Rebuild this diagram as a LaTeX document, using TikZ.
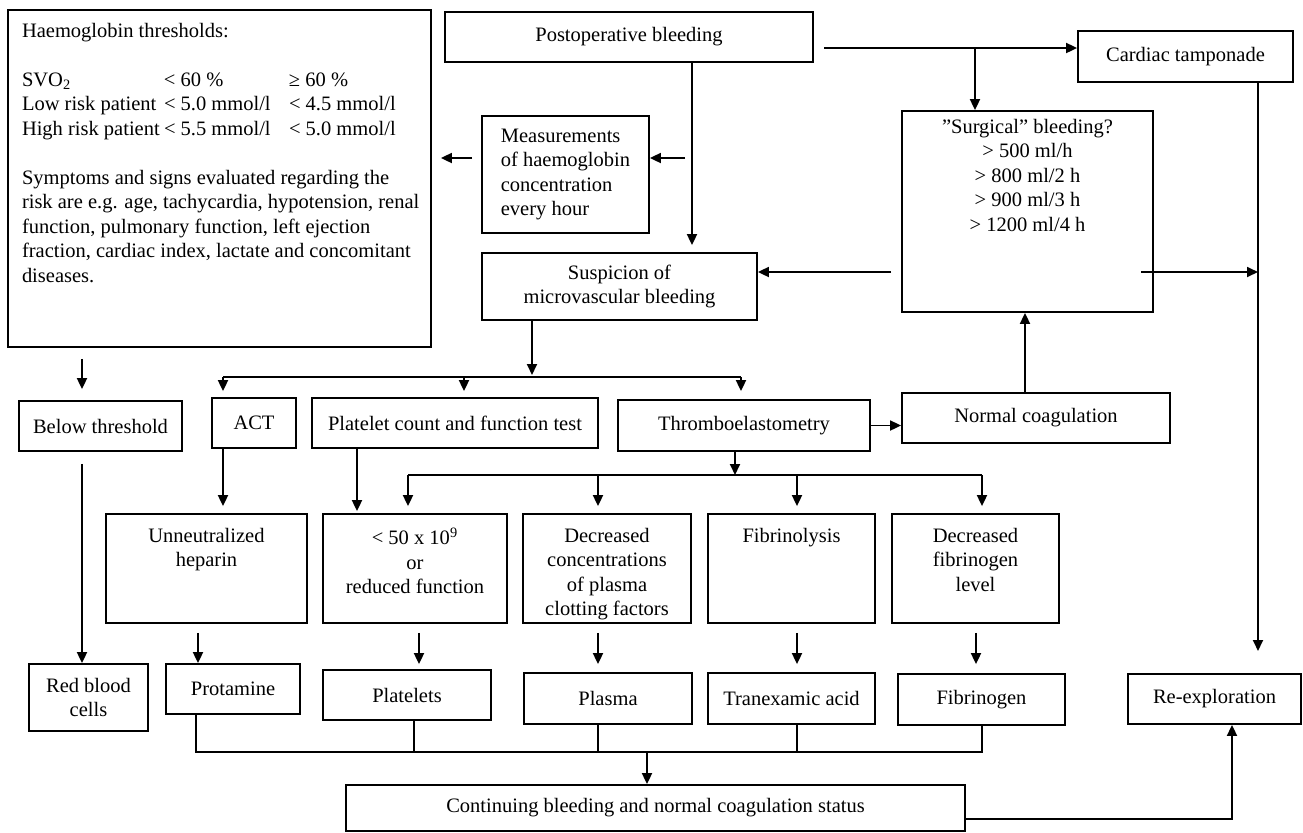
\documentclass[tikz,border=0pt]{standalone}
\usepackage{fontspec}
\setmainfont{Liberation Serif}
\usetikzlibrary{arrows.meta}

\begin{document}
\begin{tikzpicture}[x=0.5pt,y=-0.5pt,line width=0.9pt,
  every node/.style={font=\fontsize{10.25}{12.25}\selectfont},
  bx/.style 2 args={draw,inner sep=0pt,align=center,minimum width=#1*0.5pt,minimum height=#2*0.5pt},
  tx/.style={inner sep=0pt,anchor=north,align=center},
  arr/.style={-{Triangle[length=5.5pt,width=5pt]}}]
\useasboundingbox (0,0) rectangle (1303,832);
%Boxes
\node[bx={423}{337}] (hb) at (219.5,178.5) {};
\node[tx,anchor=north west,align=left] (hbT) at ([xshift=7pt,yshift=-6.5pt]hb.north west) {Haemoglobin thresholds:\\[12.25pt]
\makebox[71pt][l]{SVO\textsubscript{2}}\makebox[62.5pt][l]{< 60 \%}≥ 60 \%\\
\makebox[71pt][l]{Low risk patient}\makebox[62.5pt][l]{< 5.0 mmol/l}< 4.5 mmol/l\\
\makebox[71pt][l]{High risk patient}\makebox[62.5pt][l]{< 5.5 mmol/l}< 5.0 mmol/l\\[12.25pt]
Symptoms and signs evaluated regarding the\\
risk are e.g. age, tachycardia, hypotension, renal\\
function, pulmonary function, left ejection\\
fraction, cardiac index, lactate and concomitant\\
diseases.};
\node[bx={368}{50}] (post) at (629,37) {Postoperative bleeding};
\node[bx={215}{51}] (tamp) at (1185.5,56.5) {Cardiac tamponade};
\node[bx={251}{201}] (surg) at (1027.5,211.5) {};
\node[tx] (surgT) at ([yshift=-4pt]surg.north) {”Surgical” bleeding?\\> 500 ml/h\\> 800 ml/2 h\\> 900 ml/3 h\\> 1200 ml/4 h};
\node[bx={167}{117},align=left] (meas) at (565.5,174.5) {Measurements\\of haemoglobin\\concentration\\every hour};
\node[bx={275}{67}] (susp) at (619.5,286.5) {Suspicion of\\microvascular bleeding};
\node[bx={163}{50}] (below) at (100.5,426) {Below threshold};
\node[bx={84}{50}] (act) at (254,423) {ACT};
\node[bx={286}{50}] (plc) at (455,423) {Platelet count and function test};
\node[bx={252}{51}] (teg) at (744,425.5) {Thromboelastometry};
\node[bx={268}{50}] (norm) at (1036,418) {Normal coagulation};
\node[bx={201}{109}] (hep) at (206.5,568.5) {};
\node[bx={184}{109}] (low) at (415,568.5) {};
\node[bx={168}{109}] (dcf) at (607,568.5) {};
\node[bx={167}{109}] (fib) at (791.5,568.5) {};
\node[bx={167}{109}] (dfl) at (975.5,568.5) {};
\node[tx] at ([yshift=-7pt]hep.north) {Unneutralized\\heparin};
\node[tx] at ([yshift=-7pt]low.north) {< 50 x 10\textsuperscript{9}\\or\\reduced function};
\node[tx] at ([yshift=-7pt]dcf.north) {Decreased\\concentrations\\of plasma\\clotting factors};
\node[tx] at ([yshift=-7pt]fib.north) {Fibrinolysis};
\node[tx] at ([yshift=-7pt]dfl.north) {Decreased\\fibrinogen\\level};
\node[bx={119}{67}] (rbc) at (88.5,697.5) {Red blood\\cells};
\node[bx={134}{50}] (prot) at (233,689) {Protamine};
\node[bx={168}{50}] (plt) at (407,695) {Platelets};
\node[bx={168}{51}] (plas) at (608,698.5) {Plasma};
\node[bx={167}{51}] (txa) at (791.5,698.5) {Tranexamic acid};
\node[bx={167}{51}] (fbg) at (981.5,699.5) {Fibrinogen};
\node[bx={173}{50}] (rex) at (1214.5,699) {Re-exploration};
\node[bx={619}{46}] (cont) at (655.5,808) {Continuing bleeding and normal coagulation status};
%Connectors
\coordinate (pR) at (824,48);
\coordinate (jTop) at (975,48);
\coordinate (jMid) at (692,158);
\coordinate (mR) at (685,158);
\coordinate (sL) at (891,272);
\coordinate (sR) at (1141,272);
\coordinate (xR) at (1258,651);
\draw[arr] (pR) -- (pR -| tamp.west);
\draw[arr] (jTop) -- (jTop |- surg.north);
\draw[arr,shorten >=3.5pt] (post.south -| jMid) -- (susp.north -| jMid);
\draw[arr] (mR) -- (mR -| meas.east);
\draw[arr,shorten <=4.5pt,shorten >=4.5pt] (meas.west |- mR) -- (hb.east |- mR);
\draw[arr] (sL) -- (sL -| susp.east);
\draw[arr] (tamp.south -| xR) -- (xR);
\draw[arr] (sR) -- (sR -| xR);
\coordinate (b1) at (532,377);
\coordinate (b0) at (223,377);
\coordinate (b2) at (464,377);
\coordinate (b3) at (741,377);
\draw[arr,shorten >=1pt] (susp.south -| b1) -- (b1);
\draw (b0) -- (b3);
\draw[arr,shorten >=3pt] (b0) -- (b0 |- act.north);
\draw[arr,shorten >=3pt] (b2) -- (b2 |- plc.north);
\draw[arr,shorten >=4pt] (b3) -- (b3 |- teg.north);
\coordinate (h1) at (82,358);
\draw[arr,shorten <=5.5pt,shorten >=5.5pt] (hb.south -| h1) -- (below.north -| h1);
\draw[arr,shorten <=6pt] (below.south -| h1) -- (rbc.north -| h1);
\draw[arr,shorten >=3.5pt] (act.south -| b0) -- (hep.north -| b0);
\coordinate (p1) at (357,448);
\draw[arr,shorten >=1pt] (plc.south -| p1) -- (low.north -| p1);
\draw[arr] (teg.east) -- (teg.east -| norm.west);
\coordinate (u1) at (1025,393);
\draw[arr] (norm.north -| u1) -- (surg.south -| u1);
\coordinate (b4) at (735,475);
\coordinate (d1) at (408,475);
\coordinate (d4) at (982,475);
\draw[arr] (teg.south -| b4) -- (b4);
\draw (d1) -- (d4);
\foreach \n/\x/\s in {low/408/3.5,dcf/598/3.5,fib/797/3.5,dfl/982/3.5}
  \draw[arr,shorten >=\s pt] (\x,475) -- (\n.north -| \x,0);
\foreach \a/\b/\x/\s in {hep/prot/198/0,low/plt/419/2.5,dcf/plas/598/4,fib/txa/797/4,dfl/fbg/976/4.5}
  \draw[arr,shorten <=4.5pt,shorten >=\s pt] (\a.south -| \x,0) -- (\b.north -| \x,0);
\coordinate (k0) at (196,752);
\coordinate (k4) at (982,752);
\coordinate (k) at (647,752);
\draw (prot.south -| k0) -- (k0) -- (k4) -- (fbg.south -| k4);
\foreach \n/\x in {plt/414,plas/598,txa/797}
  \draw (\n.south -| \x,0) -- (\x,752);
\draw[arr] (k) -- (k |- cont.north);
\draw[arr] (cont.east |- 0,819) -| (rex.south -| 1232,0);
\end{tikzpicture}
\end{document}
